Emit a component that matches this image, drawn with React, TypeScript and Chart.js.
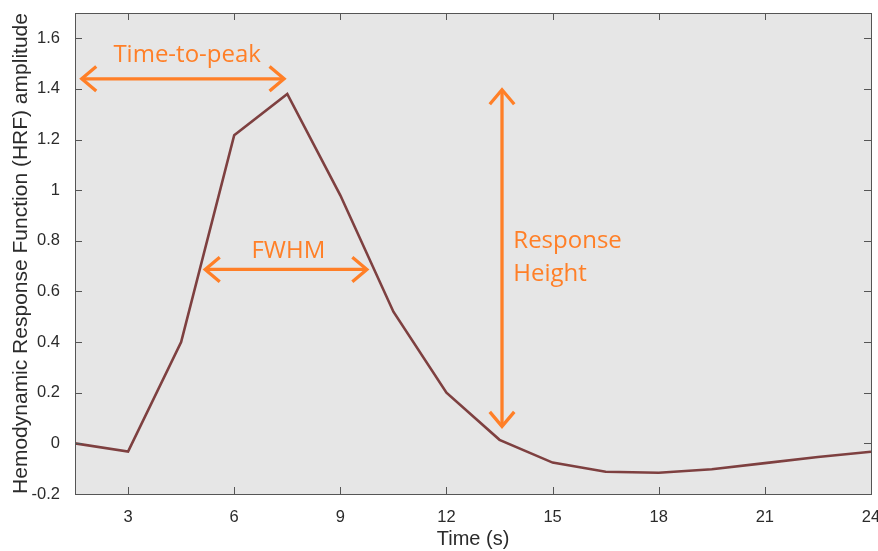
import React, { useEffect, useRef } from "react";
import { Chart, registerables } from "chart.js";

Chart.register(...registerables);

// ---- data ----
const TIME_S = [1.5, 3, 4.5, 6, 7.5, 9, 10.5, 12, 13.5, 15, 16.5, 18, 19.5, 21, 22.5, 24];
const HRF_AMPLITUDE = [0.0, -0.032, 0.4, 1.217, 1.38, 0.98, 0.52, 0.2, 0.014, -0.076, -0.112, -0.116, -0.102, -0.078, -0.054, -0.033];
const X_TICKS = [3, 6, 9, 12, 15, 18, 21, 24];
const Y_TICKS = [-0.2, 0, 0.2, 0.4, 0.6, 0.8, 1, 1.2, 1.4, 1.6];
const X_MIN = 1.5;
const X_MAX = 24;
const Y_MIN = -0.2;
const Y_MAX = 1.7;
const X_TITLE = "Time (s)";
const Y_TITLE = "Hemodynamic Response Function (HRF) amplitude";

// ---- annotations (in data units) ----
const TIME_TO_PEAK = { label: "Time-to-peak", x1: 1.69, x2: 7.41, y: 1.44, textX: 4.67, textY: 1.535 };
const FWHM = { label: "FWHM", x1: 5.18, x2: 9.75, y: 0.687, textX: 7.53, textY: 0.76 };
const RESPONSE_HEIGHT = { lines: ["Response", "Height"], x: 13.57, y1: 0.067, y2: 1.397, textX: 13.89, textY: [0.8, 0.67] };

const ORANGE = "#ff7f27";
const LINE_COLOR = "#7e4040";
const BG = "#e6e6e6";
const AXIS_COLOR = "#555555";
const TEXT_COLOR = "#2b2b2b";

function drawArrowHead(ctx: CanvasRenderingContext2D, tx: number, ty: number, dx: number, dy: number) {
  const len = 19;
  const ang = 0.7;
  const a = Math.atan2(dy, dx);
  ctx.beginPath();
  ctx.moveTo(tx - len * Math.cos(a - ang), ty - len * Math.sin(a - ang));
  ctx.lineTo(tx, ty);
  ctx.lineTo(tx - len * Math.cos(a + ang), ty - len * Math.sin(a + ang));
  ctx.stroke();
}

function drawDoubleArrow(ctx: CanvasRenderingContext2D, x1: number, y1: number, x2: number, y2: number) {
  const L = Math.hypot(x2 - x1, y2 - y1);
  const ux = (x2 - x1) / L;
  const uy = (y2 - y1) / L;
  ctx.beginPath();
  ctx.moveTo(x1 + ux * 1.5, y1 + uy * 1.5);
  ctx.lineTo(x2 - ux * 1.5, y2 - uy * 1.5);
  ctx.stroke();
  drawArrowHead(ctx, x2, y2, ux, uy);
  drawArrowHead(ctx, x1, y1, -ux, -uy);
}

const bgPlugin = {
  id: "plotBg",
  beforeDraw(chart: any) {
    const { ctx, chartArea } = chart;
    ctx.save();
    ctx.fillStyle = BG;
    ctx.fillRect(chartArea.left, chartArea.top, chartArea.right - chartArea.left, chartArea.bottom - chartArea.top);
    ctx.restore();
  },
};

const overlayPlugin = {
  id: "overlay",
  afterDatasetsDraw(chart: any) {
    const { ctx, chartArea, scales } = chart;
    const xs = scales.x;
    const ys = scales.y;
    ctx.save();
    // annotations
    ctx.strokeStyle = ORANGE;
    ctx.lineWidth = 3.3;
    ctx.lineJoin = "miter";
    ctx.lineCap = "butt";
    drawDoubleArrow(ctx, xs.getPixelForValue(TIME_TO_PEAK.x1), ys.getPixelForValue(TIME_TO_PEAK.y), xs.getPixelForValue(TIME_TO_PEAK.x2), ys.getPixelForValue(TIME_TO_PEAK.y));
    drawDoubleArrow(ctx, xs.getPixelForValue(FWHM.x1), ys.getPixelForValue(FWHM.y), xs.getPixelForValue(FWHM.x2), ys.getPixelForValue(FWHM.y));
    drawDoubleArrow(ctx, xs.getPixelForValue(RESPONSE_HEIGHT.x), ys.getPixelForValue(RESPONSE_HEIGHT.y2), xs.getPixelForValue(RESPONSE_HEIGHT.x), ys.getPixelForValue(RESPONSE_HEIGHT.y1));

    ctx.fillStyle = ORANGE;
    ctx.font = "24px 'Open Sans'";
    ctx.textBaseline = "middle";
    ctx.textAlign = "center";
    ctx.fillText(TIME_TO_PEAK.label, xs.getPixelForValue(TIME_TO_PEAK.textX), ys.getPixelForValue(TIME_TO_PEAK.textY));
    ctx.fillText(FWHM.label, xs.getPixelForValue(FWHM.textX), ys.getPixelForValue(FWHM.textY));
    ctx.textAlign = "left";
    RESPONSE_HEIGHT.lines.forEach((t, i) => {
      ctx.fillText(t, xs.getPixelForValue(RESPONSE_HEIGHT.textX), ys.getPixelForValue(RESPONSE_HEIGHT.textY[i]));
    });

    // frame + inward ticks
    const { left, right, top, bottom } = chartArea;
    ctx.strokeStyle = AXIS_COLOR;
    ctx.lineWidth = 1;
    ctx.strokeRect(Math.round(left) + 0.5, Math.round(top) + 0.5, Math.round(right - left), Math.round(bottom - top));
    const tl = 7;
    ctx.beginPath();
    X_TICKS.forEach((v) => {
      const px = Math.round(xs.getPixelForValue(v)) + 0.5;
      ctx.moveTo(px, bottom);
      ctx.lineTo(px, bottom - tl);
      ctx.moveTo(px, top);
      ctx.lineTo(px, top + tl);
    });
    Y_TICKS.forEach((v) => {
      const py = Math.round(ys.getPixelForValue(v)) + 0.5;
      ctx.moveTo(left, py);
      ctx.lineTo(left + tl, py);
      ctx.moveTo(right, py);
      ctx.lineTo(right - tl, py);
    });
    ctx.stroke();
    ctx.restore();
  },
};

export default function App() {
  const ref = useRef<HTMLCanvasElement | null>(null);
  useEffect(() => {
    if (!ref.current) return;
    Chart.defaults.font.family = "'Liberation Sans', Arial, sans-serif";
    const chart = new Chart(ref.current, {
      type: "line",
      data: {
        datasets: [
          {
            data: TIME_S.map((t, i) => ({ x: t, y: HRF_AMPLITUDE[i] })),
            borderColor: LINE_COLOR,
            borderWidth: 2.6,
            pointRadius: 0,
            tension: 0,
            fill: false,
          },
        ],
      },
      options: {
        animation: false,
        responsive: true,
        maintainAspectRatio: false,
        layout: { padding: { top: 13, right: 7, left: 0, bottom: 0 } },
        plugins: { legend: { display: false }, tooltip: { enabled: false } },
        scales: {
          x: {
            type: "linear",
            min: X_MIN,
            max: X_MAX,
            grid: { display: false, drawTicks: false },
            border: { display: false },
            afterBuildTicks: (s: any) => {
              s.ticks = X_TICKS.map((v) => ({ value: v }));
            },
            afterFit: (s: any) => {
              s.height = 57;
              s.paddingLeft = 0;
              s.paddingRight = 0;
            },
            ticks: {
              color: TEXT_COLOR,
              font: { size: 16.5 },
              padding: 14,
              maxRotation: 0,
              autoSkip: false,
              callback: (v: any) => String(v),
            },
            title: {
              display: true,
              text: X_TITLE,
              color: TEXT_COLOR,
              font: { size: 20 },
              padding: { top: 0, bottom: 0 },
            },
          },
          y: {
            type: "linear",
            min: Y_MIN,
            max: Y_MAX,
            grid: { display: false, drawTicks: false },
            border: { display: false },
            afterBuildTicks: (s: any) => {
              s.ticks = Y_TICKS.map((v) => ({ value: v }));
            },
            afterFit: (s: any) => {
              s.width = 75;
              s.paddingTop = 0;
              s.paddingBottom = 0;
            },
            ticks: {
              color: TEXT_COLOR,
              font: { size: 16.5 },
              padding: 15,
              autoSkip: false,
              callback: (v: any) => String(v),
            },
            title: {
              display: true,
              text: Y_TITLE,
              color: TEXT_COLOR,
              font: { size: 21 },
              padding: { top: 9, bottom: 0 },
            },
          },
        },
      },
      plugins: [bgPlugin, overlayPlugin],
    });
    return () => chart.destroy();
  }, []);
  return (
    <div style={{ position: "fixed", left: 0, top: 0, width: 878, height: 551, background: "#fff" }}>
      <canvas ref={ref} />
    </div>
  );
}
